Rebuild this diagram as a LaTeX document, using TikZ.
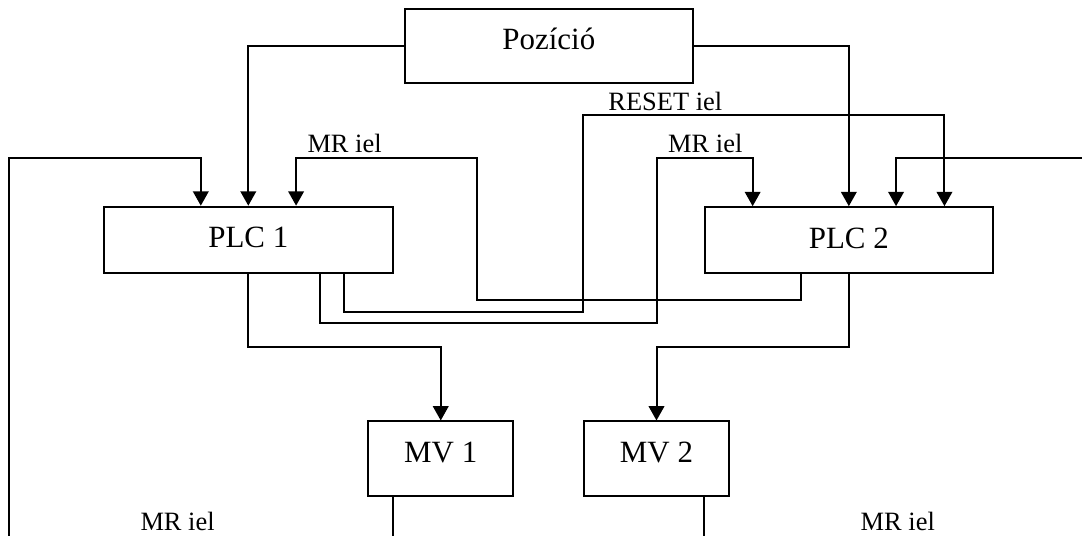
\documentclass[tikz,border=0pt]{standalone}
\usepackage{fontspec}
\setmainfont{Liberation Serif}
\usepackage{tikz}
\usetikzlibrary{calc,positioning,arrows.meta}

\begin{document}
\begin{tikzpicture}[x=0.25mm, y=-0.25mm, line width=0.5mm,
	blokk/.style={draw, inner sep=0pt, text height=5.12mm, font=\fontsize{22}{26}\selectfont},
	jel/.style={inner sep=0pt, anchor=base west, font=\fontsize{18.8}{22}\selectfont},
	nyil/.style={-{Triangle[length=3.6mm,width=3.9mm]}}]
		\useasboundingbox (0,0) rectangle (1082,536);
		
		\node[blokk, minimum width=72.1mm, minimum height=18.3mm, text depth=3.25mm] (POZ) at (548.85,45.95) {Pozíció};
		\node[blokk, minimum width=72.1mm, minimum height=16.5mm, text depth=1mm] (PLC1) at (248.3,239.7) {PLC 1};
		\node[blokk, minimum width=72.1mm, minimum height=16.5mm, text depth=1mm] (PLC2) at (848.85,240.2) {PLC 2};
		\node[blokk, minimum width=36.2mm, minimum height=18.75mm, text depth=3.3mm] (MV1) at (440.75,459) {MV 1};
		\node[blokk, minimum width=36.2mm, minimum height=18.75mm, text depth=3.3mm] (MV2) at (656.5,459) {MV 2};
		
		\coordinate (BL) at (8.6,536); % left input, from below
		\coordinate (BR) at (1082,158); % right input
		\coordinate (MR) at (0,158); % MR level
		\coordinate (MVs) at (0,347.5); % PLC -> MV level
		
		% inputs on top of the PLCs
		\coordinate (P1a) at ($(PLC1.north)+(-47.5,0)$);
		\coordinate (P1c) at ($(PLC1.north)+(47.8,0)$);
		\coordinate (P2a) at ($(PLC2.north)+(-96.2,0)$);
		\coordinate (P2c) at ($(PLC2.north)+(47.2,0)$);
		\coordinate (P2d) at ($(PLC2.north)+(95.6,0)$);
		% outputs below the PLCs
		\coordinate (Q1b) at ($(PLC1.south)+(72,0)$);
		\coordinate (Q1c) at ($(PLC1.south)+(96,0)$);
		\coordinate (Q2a) at ($(PLC2.south)+(-48,0)$);
		% outputs below the MVs
		\coordinate (K1) at ($(MV1.south)+(-48,0)$);
		\coordinate (K2) at ($(MV2.south)+(47.7,0)$);
		
		\draw[nyil] (POZ.west) -| (PLC1.north);
		\draw[nyil] (POZ.east) -| (PLC2.north);
		\draw[nyil] (BL) |- (P1a |- MR) -- (P1a);
		\draw[nyil] (BR) -| (P2c);
		
		\draw[nyil] (Q2a) |- (476.9,300) -- (476.9,158) -| (P1c);
		\draw[nyil] (Q1b) |- (656.8,322.7) -- (656.8,158) -| (P2a);
		\draw[nyil] (Q1c) |- (582.5,312.4) -- (582.5,114.8) -| (P2d);
		
		\draw[nyil] (PLC1.south) |- (MV1.north |- MVs) -- (MV1.north);
		\draw[nyil] (PLC2.south) |- (MV2.north |- MVs) -- (MV2.north);
		
		\draw (K1) -- (K1 |- BL);
		\draw (K2) -- (K2 |- BL);
		
		\node[jel] (L1) at (306.5,152.5) {MR iel};
		\node[jel] (L2) at (667.2,153) {MR iel};
		\node[jel] (L3) at (607.4,110.5) {RESET iel};
		\node[jel] (L4) at (139.5,531) {MR iel};
		\node[jel] (L5) at (859.7,531) {MR iel};
	\end{tikzpicture}
\end{document}
